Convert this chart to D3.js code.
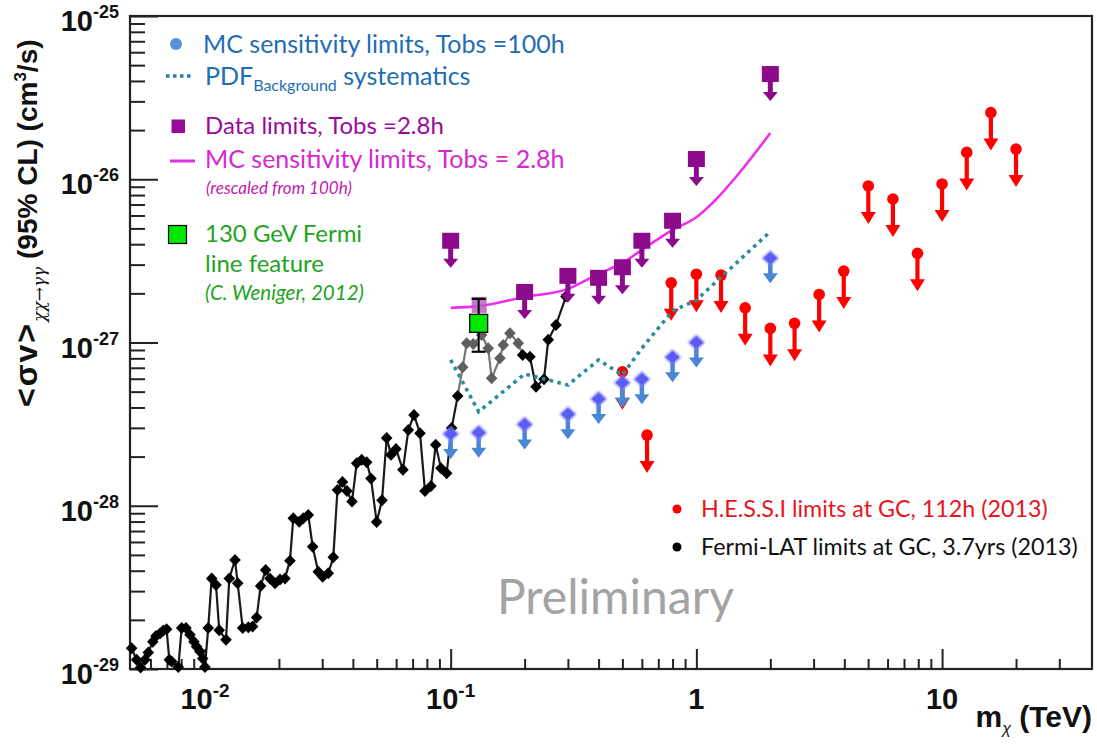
<!DOCTYPE html>
<html><head><meta charset="utf-8">
<script src="https://cdn.jsdelivr.net/npm/d3@7"></script>
<style>body{margin:0;background:#fff} svg{display:block}</style>
</head><body>
<svg id="chart" width="1097" height="744"></svg>
<script>
// ---------------- DATA ----------------
const fermiMass = [0.00503,0.00527,0.00547,0.00570,0.00588,0.00613,0.00632,0.00656,0.00677,0.00698,
  0.00716,0.00732,0.00779,0.00804,0.00837,0.00869,0.00902,0.00925,0.00954,0.00979,
  0.0100,0.01031,0.01065,0.01109,0.01143,0.01218,0.01256,0.01325,0.01359,0.01424,
  0.01501,0.01563,0.01623,0.01685,0.01766,0.01838,0.01927,0.02020,0.02116,0.02218,
  0.02288,0.02420,0.02513,0.02633,0.02744,0.02892,0.03013,0.03176,0.03329,0.03462,
  0.03628,0.03784,0.03966,0.04145,0.04344,0.04552,0.04739,0.04997,0.05254,0.05490,
  0.05715,0.05990,0.06394,0.06723,0.07091,0.07502,0.07861,0.08315,0.08690,0.09131,
  0.09632,0.1009,0.1068,0.1119,0.1162,0.1236,0.1337,0.1422,0.1468,0.1587,
  0.1637,0.1743,0.1884,0.1963,0.2102,0.2225,0.2398,0.2496,0.2683,0.2946];
const fermiSigma = [1.34e-29,1.14e-29,1.02e-29,1.14e-29,1.26e-29,1.47e-29,1.59e-29,1.65e-29,1.72e-29,1.75e-29,
  1.14e-29,1.11e-29,1.03e-29,1.78e-29,1.78e-29,1.62e-29,1.47e-29,1.37e-29,1.28e-29,1.16e-29,
  1.03e-29,1.78e-29,3.59e-29,3.27e-29,1.73e-29,1.51e-29,3.59e-29,4.65e-29,3.35e-29,1.78e-29,
  1.80e-29,1.82e-29,2.07e-29,3.22e-29,4.04e-29,3.59e-29,3.35e-29,3.54e-29,3.59e-29,4.61e-29,
  8.38e-29,7.99e-29,8.38e-29,8.78e-29,5.61e-29,3.94e-29,3.68e-29,3.86e-29,4.83e-29,1.25e-28,
  1.40e-28,1.23e-28,1.06e-28,1.82e-28,1.91e-28,1.85e-28,1.47e-28,7.95e-29,1.08e-28,2.60e-28,
  2.05e-28,2.23e-28,1.66e-28,2.91e-28,3.60e-28,2.78e-28,1.23e-28,1.32e-28,2.36e-28,1.70e-28,
  1.58e-28,2.99e-28,4.70e-28,7.05e-28,9.89e-28,9.79e-28,1.11e-27,9.22e-28,6.04e-28,8.00e-28,
  9.65e-28,1.14e-27,9.89e-28,8.38e-28,8.18e-28,5.36e-28,5.95e-28,1.04e-27,1.28e-27,1.91e-27];

const hessMass  = [0.5,0.63,0.79,1.0,1.26,1.58,2.0,2.51,3.16,3.98,5.01,6.31,7.94,10.0,12.6,15.8,20.0];
const hessSigma = [6.62e-28,2.71e-28,2.32e-27,2.62e-27,2.59e-27,1.63e-27,1.22e-27,1.31e-27,1.97e-27,
  2.74e-27,9.10e-27,7.57e-27,3.52e-27,9.36e-27,1.46e-26,2.56e-26,1.53e-26];

const mcMass  = [0.1,0.13,0.2,0.3,0.4,0.5,0.6,0.8,1.0,2.0];
const mc100h  = [2.75e-28,2.80e-28,3.15e-28,3.63e-28,4.51e-28,5.67e-28,5.95e-28,8.12e-28,1.00e-27,3.28e-27];
const pdfSyst = [7.82e-28,3.77e-28,6.41e-28,5.49e-28,7.82e-28,6.32e-28,9.24e-28,1.56e-27,1.82e-27,4.78e-27];

const dataMass  = [0.1,0.2,0.3,0.4,0.5,0.6,0.8,1.0,2.0];
const dataLimit = [4.20e-27,2.04e-27,2.56e-27,2.49e-27,2.89e-27,4.20e-27,5.57e-27,1.33e-26,4.41e-26];
const dataHiddenMass = [0.13];
const dataHiddenLimit = [1.70e-27];

const mc28Mass = [0.1,0.13,0.2,0.3,0.4,0.5,0.6,0.8,1.0,1.2,1.5,2.0];
const mc28h    = [1.63e-27,1.67e-27,1.90e-27,2.13e-27,2.63e-27,3.07e-27,3.69e-27,4.89e-27,5.85e-27,7.5e-27,1.1e-26,1.92e-26];

const lineMass = [0.13];
const lineSigma = [1.31e-27];
const lineErrLow = [8.78e-28];
const lineErrHigh = [1.85e-27];

const xMajorTicks = [0.01, 0.1, 1, 10];
const xTickLabels = [["10","-2"],["10","-1"],["1",""],["10",""]];
const yMajorTicks = [1e-29, 1e-28, 1e-27, 1e-26, 1e-25];
const yTickLabels = [["10","-29"],["10","-28"],["10","-27"],["10","-26"],["10","-25"]];

// ---------------- SETUP ----------------
const svg = d3.select("#chart");
const x = d3.scaleLog().domain([0.005, 40]).range([131, 1090]);
const y = d3.scaleLog().domain([1e-29, 1e-25]).range([669, 16]);
const L = 130, R = 1092, T = y.range()[1], B = y.range()[0];

const defs = svg.append("defs");
defs.append("filter").attr("id","blur").attr("x","-50%").attr("y","-50%").attr("width","200%").attr("height","200%")
  .append("feGaussianBlur").attr("stdDeviation", 1.3);

// minor ticks
function minors(lo, hi){
  const out=[];
  for(let e=lo;e<hi;e++) for(let k=2;k<=9;k++){ out.push(+(k*Math.pow(10,e)).toPrecision(3)); }
  return out;
}
const xMinor = minors(-3,2).filter(v => v > 0.005 && v < 40 && xMajorTicks.indexOf(v) < 0);
const yMinor = minors(-29,-25);

const axG = svg.append("g").attr("class","axes");
axG.append("g").attr("transform",`translate(0,${B})`)
  .call(d3.axisTop(x).tickValues(xMinor).tickSize(10).tickSizeOuter(0).tickFormat(""));
axG.append("g").attr("transform",`translate(0,${B})`)
  .call(d3.axisTop(x).tickValues(xMajorTicks).tickSize(20).tickSizeOuter(0).tickFormat(""));
axG.append("g").attr("transform",`translate(${L},0)`)
  .call(d3.axisRight(y).tickValues(yMinor).tickSize(15).tickSizeOuter(0).tickFormat(""));
axG.append("g").attr("transform",`translate(${L},0)`)
  .call(d3.axisRight(y).tickValues(yMajorTicks).tickSize(28).tickSizeOuter(0).tickFormat(""));
axG.selectAll(".domain").remove();
axG.selectAll(".tick line").attr("stroke","#222").attr("stroke-width",2);

svg.append("rect").attr("x",L).attr("y",T).attr("width",R-L).attr("height",B-T)
  .attr("fill","none").attr("stroke","#222").attr("stroke-width",2.2);

// tick labels
const labelFont = "'Liberation Sans', Arial, Helvetica, sans-serif";
xMajorTicks.forEach((v,i)=>{
  const t = svg.append("text").attr("x", x(v)).attr("y", 709).attr("text-anchor","middle")
    .attr("font-family",labelFont).attr("font-size",29).attr("font-weight","bold").attr("fill","#111");
  t.append("tspan").text(xTickLabels[i][0]);
  if (xTickLabels[i][1]) t.append("tspan").attr("dy",-12).attr("font-size",19).text(xTickLabels[i][1]);
});
yMajorTicks.forEach((v,i)=>{
  const t = svg.append("text").attr("x", 119).attr("y", y(v)+15).attr("text-anchor","end")
    .attr("font-family",labelFont).attr("font-size",29).attr("font-weight","bold").attr("fill","#111");
  t.append("tspan").text(yTickLabels[i][0]);
  t.append("tspan").attr("dy",-13).attr("font-size",18).text(yTickLabels[i][1]);
});

// axis titles
const xt = svg.append("text").attr("x", R).attr("y", 727).attr("text-anchor","end")
  .attr("font-family",labelFont).attr("font-size",30).attr("font-weight","bold").attr("fill","#111");
xt.append("tspan").text("m");
xt.append("tspan").attr("dy",7).attr("font-size",16).attr("font-weight","normal").attr("font-style","italic").text("χ");
xt.append("tspan").attr("dy",-7).text(" (TeV)");

const yt = svg.append("text").attr("transform","translate(37,407) rotate(-90)")
  .attr("font-family",labelFont).attr("font-size",28).attr("font-weight","bold").attr("fill","#111");
yt.append("tspan").attr("font-size",32).attr("letter-spacing",2).text("<σv>");
yt.append("tspan").attr("dy",8).attr("font-size",17).attr("font-weight","normal").attr("font-style","italic")
  .attr("font-family","'DejaVu Serif', serif").text("χχ→γγ");
yt.append("tspan").attr("dy",-8).text(" (95% CL) (cm");
yt.append("tspan").attr("dy",-11).attr("font-size",17).text("3");
yt.append("tspan").attr("dy",11).text("/s)");

// ---------------- DATA LAYERS ----------------
const plot = svg.append("g");

// Fermi-LAT curve
const fermi = fermiMass.map((m,i)=>({m, v: fermiSigma[i]}));
const isGray = d => d.m > 0.11 && d.m < 0.19;
for (let i=1;i<fermi.length;i++){
  const a=fermi[i-1], b=fermi[i];
  plot.append("line").attr("x1",x(a.m)).attr("y1",y(a.v)).attr("x2",x(b.m)).attr("y2",y(b.v))
    .attr("stroke", (isGray(a)||isGray(b)) ? "#777" : "#1a1a1a").attr("stroke-width",2.2);
}
plot.selectAll("path.fermi").data(fermi).join("path").attr("class","fermi")
  .attr("d","M0,-6L5.8,0L0,6L-5.8,0Z")
  .attr("transform", d=>`translate(${x(d.m)},${y(d.v)})`)
  .attr("fill", d => isGray(d) ? "#5e5e5e" : "#000");

// arrow marker helper (relative shape)
function arrowDown(stemTop, stemW, headBase, headTip, headHalf){
  return `M${-stemW/2},${stemTop}L${stemW/2},${stemTop}L${stemW/2},${headBase}L${headHalf},${headBase}L0,${headTip}L${-headHalf},${headBase}L${-stemW/2},${headBase}Z`;
}

// H.E.S.S. limits
const hess = hessMass.map((m,i)=>({m, v: hessSigma[i]}));
const hg = plot.selectAll("g.hess").data(hess).join("g").attr("class","hess")
  .attr("transform", d=>`translate(${x(d.m)},${y(d.v)})`);
hg.append("path").attr("d", arrowDown(0, 4.2, 26, 38, 7.5)).attr("fill","#ff0000");
hg.append("circle").attr("r",5.8).attr("fill","#ff0000");

// PDF background systematics (dotted)
const pdf = mcMass.map((m,i)=>({m, v: pdfSyst[i]}));
plot.append("path").datum(pdf)
  .attr("d", d3.line().x(d=>x(d.m)).y(d=>y(d.v)))
  .attr("fill","none").attr("stroke","#2a8c9c").attr("stroke-width",3.6).attr("stroke-dasharray","3.6,4.4");

// MC sensitivity 2.8h (magenta)
const mc28 = mc28Mass.map((m,i)=>({m, v: mc28h[i]}));
plot.append("path").datum(mc28)
  .attr("d", d3.line().curve(d3.curveMonotoneX).x(d=>x(d.m)).y(d=>y(d.v)))
  .attr("fill","none").attr("stroke","#f02cf0").attr("stroke-width",2.6);

// MC sensitivity 100h (blue)
const mc = mcMass.map((m,i)=>({m, v: mc100h[i]}));
const mg = plot.selectAll("g.mc").data(mc).join("g").attr("class","mc")
  .attr("transform", d=>`translate(${x(d.m)},${y(d.v)})`);
mg.append("path").attr("d", arrowDown(2, 4.5, 15, 25, 7.5)).attr("fill","#4a86d6");
mg.append("path").attr("d","M0,-8L8.5,0L0,7.5L-8.5,0Z").attr("fill","#7a7af8").attr("filter","url(#blur)");
mg.append("path").attr("d","M0,-6L6.5,0L0,5.5L-6.5,0Z").attr("fill","#5a5cf4");

// Data limits (purple)
const dl = dataMass.map((m,i)=>({m, v: dataLimit[i]}));
const dg = plot.selectAll("g.dl").data(dl).join("g").attr("class","dl")
  .attr("transform", d=>`translate(${x(d.m)},${y(d.v)})`);
dg.append("path").attr("d", arrowDown(0, 5, 18, 27, 7.5)).attr("fill","#8c0a8c");
dg.append("rect").attr("x",-8.5).attr("y",-8).attr("width",17).attr("height",16).attr("fill","#8c0a8c");

// hidden data limit at 130 GeV (faded)
plot.selectAll("rect.dh").data(dataHiddenMass.map((m,i)=>({m, v: dataHiddenLimit[i]}))).join("rect")
  .attr("class","dh").attr("x", d=>x(d.m)-7).attr("y", d=>y(d.v)-8).attr("width",15).attr("height",16)
  .attr("fill","#b860c0").attr("opacity",0.85);

// 130 GeV Fermi line feature
const lf = lineMass.map((m,i)=>({m, v: lineSigma[i], lo: lineErrLow[i], hi: lineErrHigh[i]}));
lf.forEach(d=>{
  const cx = x(d.m);
  plot.append("line").attr("x1",cx).attr("x2",cx).attr("y1",y(d.hi)).attr("y2",y(d.lo)).attr("stroke","#000").attr("stroke-width",2);
  [d.hi, d.lo].forEach(v => plot.append("line").attr("x1",cx-7).attr("x2",cx+7).attr("y1",y(v)).attr("y2",y(v)).attr("stroke","#000").attr("stroke-width",2.2));
  plot.append("rect").attr("x",cx-9).attr("y",y(d.v)-9).attr("width",18).attr("height",18)
    .attr("fill","#00e800").attr("stroke","#000").attr("stroke-width",1.3);
});

// ---------------- LEGEND ----------------
const lgFont = "Lato, 'Open Sans', sans-serif";
const lg = svg.append("g").attr("font-family", lgFont);
lg.append("circle").attr("cx",176).attr("cy",44).attr("r",6).attr("fill","#5b8fdc");
lg.append("text").attr("x",203).attr("y",53).attr("font-size",25).attr("fill","#1f6db3")
  .text("MC sensitivity limits, Tobs =100h");
lg.append("line").attr("x1",166).attr("x2",193).attr("y1",76).attr("y2",76)
  .attr("stroke","#2b7ab8").attr("stroke-width",3.5).attr("stroke-dasharray","3.5,3.5");
const pdfT = lg.append("text").attr("x",205).attr("y",85).attr("font-size",25).attr("fill","#1f6db3");
pdfT.append("tspan").text("PDF");
pdfT.append("tspan").attr("dy",6).attr("font-size",16).text("Background");
pdfT.append("tspan").attr("dy",-6).text(" systematics");
lg.append("rect").attr("x",171.5).attr("y",119.5).attr("width",13.5).attr("height",13.5).attr("fill","#9a0a9a");
lg.append("text").attr("x",205).attr("y",134).attr("font-size",24).attr("fill","#9a0a9a")
  .text("Data limits, Tobs =2.8h");
lg.append("line").attr("x1",170).attr("x2",195).attr("y1",161).attr("y2",161).attr("stroke","#e030e0").attr("stroke-width",3);
lg.append("text").attr("x",205).attr("y",168).attr("font-size",25).attr("fill","#d42ad0")
  .text("MC sensitivity limits, Tobs = 2.8h");
lg.append("text").attr("x",206).attr("y",194).attr("font-size",17).attr("font-style","italic").attr("fill","#c21ab0")
  .text("(rescaled from 100h)");
lg.append("rect").attr("x",168.5).attr("y",225.5).attr("width",18).attr("height",18)
  .attr("fill","#00e800").attr("stroke","#000").attr("stroke-width",1.2);
lg.append("text").attr("x",205).attr("y",242).attr("font-size",24).attr("fill","#22a322").text("130 GeV Fermi");
lg.append("text").attr("x",205).attr("y",272).attr("font-size",24).attr("fill","#22a322").text("line feature");
lg.append("text").attr("x",205).attr("y",300).attr("font-size",20.5).attr("font-style","italic").attr("fill","#22a322")
  .text("(C. Weniger, 2012)");

lg.append("circle").attr("cx",677).attr("cy",509).attr("r",4.5).attr("fill","#ff0000");
lg.append("text").attr("x",701).attr("y",517).attr("font-size",23.3).attr("fill","#e8141c")
  .text("H.E.S.S.I limits at GC, 112h (2013)");
lg.append("circle").attr("cx",677).attr("cy",547).attr("r",4.5).attr("fill","#000");
lg.append("text").attr("x",701).attr("y",555).attr("font-size",23.3).attr("fill","#111")
  .text("Fermi-LAT limits at GC, 3.7yrs (2013)");

svg.append("text").attr("x",497).attr("y",614).attr("font-family",lgFont).attr("font-size",48)
  .attr("fill","#a3a3a3").text("Preliminary");
</script>
</body></html>
